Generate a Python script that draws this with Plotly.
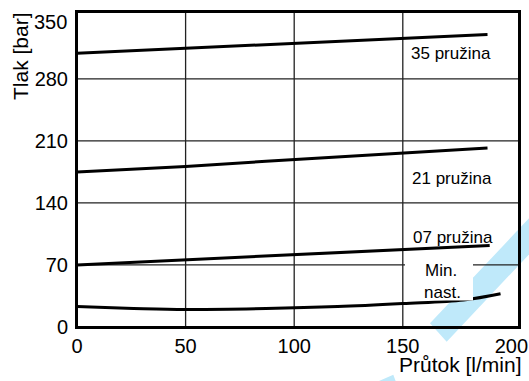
import plotly.graph_objects as go

# ---- data ----
flow_35 = [0, 50, 87, 150, 189]
p_35 = [309, 314.5, 319, 325.5, 330]

flow_21 = [0, 50, 87, 150, 189]
p_21 = [175, 181, 187, 196, 202]

flow_07 = [0, 50, 87, 150, 190]
p_07 = [70, 76, 80, 88, 92]

flow_min = [0, 26, 50, 87, 120, 150, 178, 195]
p_min = [23, 21, 19.8, 20.8, 23, 26.5, 30.5, 37.5]

x_ticks = [0, 50, 100, 150, 200]
y_ticks = [0, 70, 140, 210, 280, 350]

labels = ["35 pružina", "21 pružina", "07 pružina", "Min.", "nast."]
x_title = "Průtok [l/min]"
y_title = "Tlak [bar]"

# ---- layout geometry (screen pixels) ----
W, H = 529, 381
PLOT_L, PLOT_R, PLOT_T, PLOT_B = 77, 519, 12, 327   # plot box
L, T, R, B = PLOT_L, PLOT_T, W - PLOT_R, H - PLOT_B
PW, PH = PLOT_R - PLOT_L, PLOT_B - PLOT_T
X_RANGE = [0, 203.5]
Y_RANGE = [0, 355.5]
FONT = "Liberation Sans, Arial, Helvetica, sans-serif"


def px2paper(px, py):
    return (px - PLOT_L) / PW, (PLOT_B - py) / PH


fig = go.Figure()

line_style = dict(color="black", width=3)
for fx, fy in [(flow_35, p_35), (flow_21, p_21), (flow_07, p_07)]:
    fig.add_trace(go.Scatter(x=fx, y=fy, mode="lines", line=line_style,
                             hoverinfo="skip", showlegend=False))
fig.add_trace(go.Scatter(x=flow_min, y=p_min, mode="lines",
                         line=dict(color="black", width=3, shape="spline", smoothing=1),
                         hoverinfo="skip", showlegend=False))

shapes = []
# light blue diagonal watermark band
band = [(430, 323.3), (446.7, 341.7), (556.7, 225.1), (540, 206.7)]
pts = [px2paper(*p) for p in band]
path = "M " + " L ".join(f"{a:.4f},{b:.4f}" for a, b in pts) + " Z"
shapes.append(dict(type="path", path=path, xref="paper", yref="paper",
                   fillcolor="#bfe9fa", line=dict(width=0), layer="below"))
piece = [(376.7, 382), (393.3, 374.7), (396, 382)]
pts = [px2paper(*p) for p in piece]
path = "M " + " L ".join(f"{a:.4f},{b:.4f}" for a, b in pts) + " Z"
shapes.append(dict(type="path", path=path, xref="paper", yref="paper",
                   fillcolor="#bfe9fa", line=dict(width=0), layer="below"))

# grid lines
for xv in x_ticks[1:-1]:
    shapes.append(dict(type="line", xref="x", yref="paper", x0=xv, x1=xv, y0=0, y1=1,
                       line=dict(color="#222", width=1.3), layer="below"))
for yv in y_ticks[1:-1]:
    shapes.append(dict(type="line", xref="paper", yref="y", x0=0, x1=1, y0=yv, y1=yv,
                       line=dict(color="#222", width=1.3), layer="below"))

# white label box for "Min. nast."
bx0, by0 = px2paper(405, 300.5)
bx1, by1 = px2paper(473, 256)
shapes.append(dict(type="rect", xref="paper", yref="paper", x0=bx0, x1=bx1, y0=by0, y1=by1,
                   fillcolor="white", line=dict(width=0), layer="above"))
# plot frame: four separate edges
fx0, fy_top = px2paper(PLOT_L - 1, PLOT_T)
fx1, fy_bot = px2paper(PLOT_R + 1, PLOT_B)
for x0, y0, x1, y1 in [(fx0, fy_top, fx1, fy_top), (fx0, fy_bot, fx1, fy_bot),
                       (0, 0, 0, 1), (1, 0, 1, 1)]:
    shapes.append(dict(type="line", xref="paper", yref="paper", x0=x0, y0=y0, x1=x1, y1=y1,
                       line=dict(color="black", width=2), layer="above"))

annotations = []
lab_font = dict(family=FONT, size=17, color="black")
for (px, py), txt in zip([(450.7, 53.3), (452.3, 178.3), (453.3, 237), (440.8, 270), (442.5, 292)],
                         labels):
    ax, ay = px2paper(px, py)
    annotations.append(dict(x=ax, y=ay, xref="paper", yref="paper", text=txt,
                            showarrow=False, font=lab_font, xanchor="center", yanchor="middle"))

# 350 tick label drawn as annotation (sits lower than the box edge, like the reference)
ax, ay = px2paper(69, 21.5)
annotations.append(dict(x=ax, y=ay, xref="paper", yref="paper", text=str(y_ticks[-1]),
                        showarrow=False, font=dict(family=FONT, size=20, color="black"),
                        xanchor="right", yanchor="middle"))

ax, ay = px2paper(21, 56)
annotations.append(dict(x=ax, y=ay, xref="paper", yref="paper", text=y_title, textangle=-90,
                        showarrow=False, font=dict(family=FONT, size=21, color="black"),
                        xanchor="center", yanchor="middle"))
ax, ay = px2paper(460, 364)
annotations.append(dict(x=ax, y=ay, xref="paper", yref="paper", text=x_title,
                        showarrow=False, font=dict(family=FONT, size=21, color="black"),
                        xanchor="center", yanchor="middle"))

fig.update_layout(
    template="none",
    width=W, height=H,
    margin=dict(l=L, r=R, t=T, b=B, pad=0, autoexpand=False),
    paper_bgcolor="white", plot_bgcolor="white",
    shapes=shapes, annotations=annotations,
    font=dict(family=FONT, color="black"),
)
fig.update_xaxes(range=X_RANGE, tickvals=x_ticks, ticktext=[str(v) for v in x_ticks],
                 automargin=False, showgrid=False, zeroline=False,
                 showline=True, mirror=True, linecolor="black", linewidth=2,
                 ticks="", ticklabelstandoff=0,
                 tickfont=dict(family=FONT, size=20, color="black"))
fig.update_yaxes(range=Y_RANGE, tickvals=y_ticks[:-1], ticktext=[str(v) for v in y_ticks[:-1]],
                 automargin=False, showgrid=False, zeroline=False,
                 showline=True, mirror=True, linecolor="black", linewidth=2,
                 ticks="", ticklabelstandoff=3,
                 tickfont=dict(family=FONT, size=20, color="black"))

fig.write_html("out.html", config={"displayModeBar": False, "staticPlot": True},
               post_script="document.body.style.margin='0px';document.body.style.overflow='hidden';")
